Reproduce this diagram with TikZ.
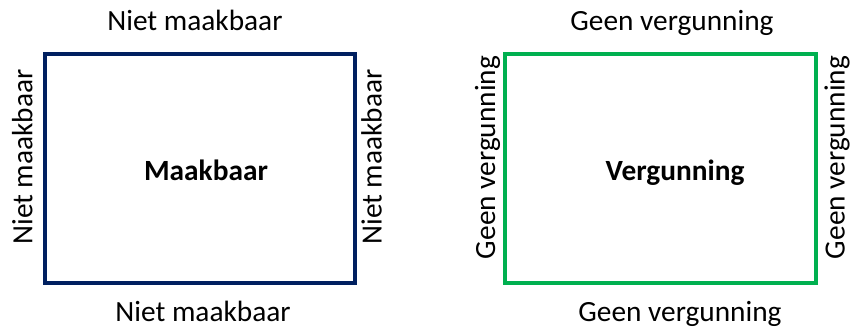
\documentclass[tikz,border=0pt]{standalone}
\usepackage{fontspec}
\setmainfont{Carlito}
\usetikzlibrary{
    positioning % For relative positioning (right=of ...)
}
\definecolor{navyblue}{HTML}{002060}
\definecolor{permitgreen}{HTML}{00B050}

\begin{document}
\begin{tikzpicture}[
    % Define styles
    area/.style={rectangle, draw, line width=3pt, inner sep=0pt, minimum width=232.5pt, minimum height=171.75pt}, % Region box
    sidelabel/.style={font=\fontsize{22pt}{26pt}\selectfont, inner sep=0pt, anchor=base}, % Text round the box
    vertlabel/.style={sidelabel, rotate=90}, % Text along a vertical side
    mainlabel/.style={font=\fontsize{22pt}{26pt}\selectfont\bfseries, inner sep=0pt, anchor=base} % Text inside the box
]
\useasboundingbox (0,0) rectangle (638.25pt,-249.75pt);

% ----- MAAKBAAR -----
\node (mk_box)    [area, draw=navyblue] at (150pt,-126.4pt) {};
\node (mk_label)  [mainlabel] at ([xshift=4.5pt, yshift=-8.6pt]mk_box.center) {Maakbaar};
\node (mk_top)    [sidelabel] at ([xshift=-3.8pt, yshift=16.5pt]mk_box.north) {Niet maakbaar};
\node (mk_bottom) [sidelabel] at ([xshift=2.3pt, yshift=-27.5pt]mk_box.south) {Niet maakbaar};
\node (mk_left)   [vertlabel] at ([xshift=-8pt, yshift=8.6pt]mk_box.west) {Niet maakbaar};
\node (mk_right)  [vertlabel] at ([xshift=18.5pt, yshift=8.6pt]mk_box.east) {Niet maakbaar};

% ----- VERGUNNING -----
\node (vg_box)    [area, draw=permitgreen, minimum width=233.25pt, right=109.5pt of mk_box] {};
\node (vg_label)  [mainlabel] at ([xshift=10.9pt, yshift=-8.6pt]vg_box.center) {Vergunning};
\node (vg_top)    [sidelabel] at ([xshift=8.6pt, yshift=16.5pt]vg_box.north) {Geen vergunning};
\node (vg_bottom) [sidelabel] at ([xshift=14.6pt, yshift=-27.5pt]vg_box.south) {Geen vergunning};
\node (vg_left)   [vertlabel] at ([xshift=-6pt, yshift=8.3pt]vg_box.west) {Geen vergunning};
\node (vg_right)  [vertlabel] at ([xshift=20pt, yshift=8.3pt]vg_box.east) {Geen vergunning};

\end{tikzpicture}
\end{document}
